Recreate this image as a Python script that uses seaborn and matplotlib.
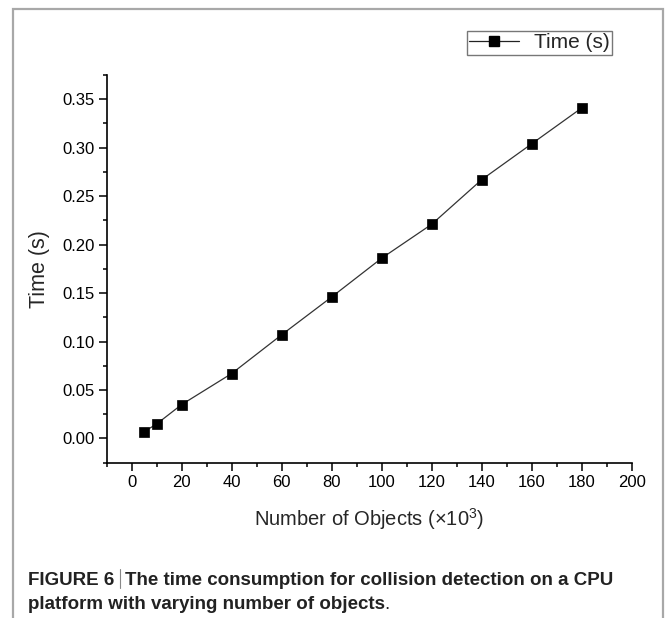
import matplotlib
matplotlib.use("Agg")
import matplotlib.pyplot as plt
import seaborn as sns
import pandas as pd
from matplotlib.patches import Rectangle
from matplotlib.lines import Line2D
from matplotlib.ticker import MultipleLocator

# ---- data ----
objects_k = [5, 10, 20, 40, 60, 80, 100, 120, 140, 160, 180]
time_s = [0.007, 0.015, 0.035, 0.067, 0.107, 0.146, 0.186, 0.221, 0.267, 0.304, 0.341]
x_ticks = [0, 20, 40, 60, 80, 100, 120, 140, 160, 180, 200]
y_ticks = [0.00, 0.05, 0.10, 0.15, 0.20, 0.25, 0.30, 0.35]
series_name = "Time (s)"
x_label = "Number of Objects (\u00d710$^3$)"
y_label = "Time (s)"
caption_bold_1 = "FIGURE 6"
caption_rest_1 = "The time consumption for collision detection on a CPU"
caption_bold_2 = "platform with varying number of objects"

df = pd.DataFrame({"x": objects_k, "y": time_s, "series": series_name})

sns.set_style("ticks")
plt.rcParams["font.family"] = ["Liberation Sans", "DejaVu Sans"]
plt.rcParams["mathtext.fontset"] = "custom"
plt.rcParams["mathtext.rm"] = "Liberation Sans"

W, H = 665, 618
fig = plt.figure(figsize=(W / 100, H / 100), dpi=100)
fig.patch.set_facecolor("white")

def px_rect(l, t, r, b):
    return [l / W, 1 - b / H, (r - l) / W, (b - t) / H]

ax = fig.add_axes(px_rect(106.7, 75, 631.7, 462.7))

sns.lineplot(data=df, x="x", y="y", ax=ax, marker="s", markersize=7.5,
             color="#333333", linewidth=0.9, markerfacecolor="black",
             markeredgecolor="black", markeredgewidth=0.5, legend=False)

ax.set_xlim(-10, 200)
ax.set_ylim(-0.025, 0.375)
ax.set_xticks(x_ticks)
ax.set_yticks(y_ticks)
ax.set_xticklabels([str(v) for v in x_ticks])
ax.set_yticklabels([f"{v:.2f}" for v in y_ticks])
ax.xaxis.set_minor_locator(MultipleLocator(10))
ax.yaxis.set_minor_locator(MultipleLocator(0.025))
ax.tick_params(which="major", direction="out", length=5.5, width=1.1,
               labelsize=12, colors="black", pad=3)
ax.tick_params(which="minor", direction="out", length=3, width=1.1, colors="black")
for s in ["top", "right"]:
    ax.spines[s].set_visible(False)
for s in ["left", "bottom"]:
    ax.spines[s].set_linewidth(1.2)
    ax.spines[s].set_color("black")

ax.set_xlabel(x_label, fontsize=14.5, labelpad=12)
ax.set_ylabel(y_label, fontsize=15.5, labelpad=9)

# legend above the axes
handle = Line2D([], [], color="#222222", linewidth=0.9, marker="s",
                markersize=6.5, markerfacecolor="black", markeredgecolor="black")
leg = fig.legend([handle], [series_name], loc="upper right",
                 bbox_to_anchor=(612 / W, 1 - 30.7 / H), fontsize=15,
                 frameon=True, fancybox=False, handlelength=2.4,
                 borderpad=0.12, handletextpad=0.7, borderaxespad=0)
leg.get_frame().set_edgecolor("#555555")
leg.get_frame().set_linewidth(1.0)

# outer gray frame
fig.patches.append(Rectangle((12.7 / W, -0.05), (663 - 12.7) / W, 1.05 - 9.3 / H,
                             transform=fig.transFigure, fill=False,
                             edgecolor="#a8a8a8", linewidth=1.6))

# caption
cap_color = "#222222"
fs = 13.5
y1 = 1 - 585 / H
y2 = 1 - 609 / H
x0 = 28.5 / W
fig.canvas.draw()
r = fig.canvas.get_renderer()
t1 = fig.text(x0, y1, caption_bold_1, fontsize=fs, fontweight="bold",
              color=cap_color, va="baseline")
bb = t1.get_window_extent(renderer=r)
bar_x = (bb.x1 + 5) / W
fig.add_artist(Line2D([bar_x, bar_x], [y1 - 3 / H, y1 + 16 / H],
                      transform=fig.transFigure, color="#888888", linewidth=0.8))
fig.text(bar_x + 5 / W, y1, caption_rest_1, fontsize=fs, fontweight="bold",
         color=cap_color, va="baseline")
t3 = fig.text(x0, y2, caption_bold_2, fontsize=fs, fontweight="bold",
              color=cap_color, va="baseline")
bb3 = t3.get_window_extent(renderer=r)
fig.text((bb3.x1 - 1.5) / W, y2, ".", fontsize=fs, color=cap_color, va="baseline")

fig.savefig("out.png", dpi=100)
